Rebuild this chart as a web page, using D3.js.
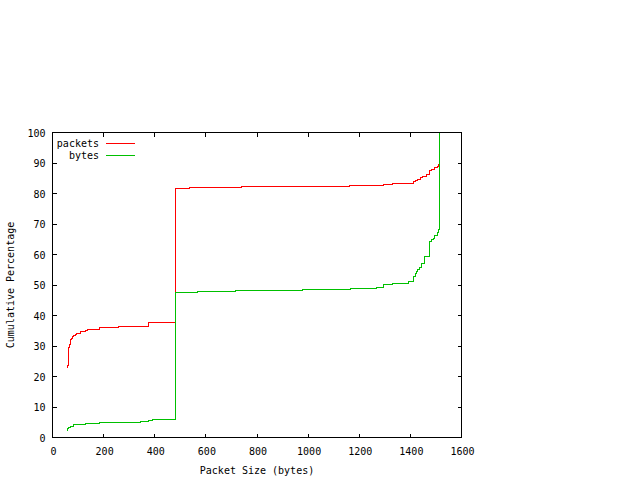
<!DOCTYPE html>
<html lang="en">
<head>
    <meta charset="UTF-8">
    <script src="https://d3js.org/d3.v7.min.js"></script>
    <style>
        body {margin: 0; background-color: #ffffff}
        svg {display: block}
        text {font-family: "DejaVu Sans Mono", monospace; font-size: 10px; fill: #000000}
        .frame {fill: none; stroke: #000000; stroke-width: 1; shape-rendering: crispEdges}
        .tick {stroke: #000000; stroke-width: 1; shape-rendering: crispEdges}
    </style>
</head>
<body>
<svg class="cdf_chart" width="640" height="480"></svg>
<script type="text/javascript">
    // packet size CDF
    const pktSizes = [56, 60, 64, 68, 71, 74, 78, 83, 90, 95, 110, 130, 137, 149, 182, 260, 374,
        480, 534, 738, 1162, 1295, 1329, 1413, 1420, 1429, 1438, 1446, 1464, 1476, 1482, 1495, 1505, 1510, 1514];
    const pktCum = [23.1, 23.6, 29.6, 30.4, 32.2, 32.6, 33.0, 33.5, 33.9, 34.2, 34.6, 35.0, 35.3, 35.5, 36.2, 36.5, 37.6,
        81.6, 81.9, 82.25, 82.6, 82.9, 83.2, 83.8, 84.2, 84.5, 85.2, 85.6, 86.3, 87.7, 88.0, 88.5, 88.9, 89.4, 100];

    const byteSizes = [56, 60, 64, 69, 83, 130, 182, 344, 374, 393,
        480, 569, 714, 979, 1166, 1267, 1295, 1329, 1393, 1413, 1420, 1425, 1429, 1436, 1442, 1456,
        1476, 1484, 1489, 1495, 1505, 1510, 1514];
    const byteCum = [2.4, 2.8, 3.4, 3.7, 4.1, 4.5, 4.8, 5.2, 5.6, 5.9,
        47.6, 47.9, 48.25, 48.6, 48.9, 49.25, 50.2, 50.65, 51.0, 52.7, 53.8, 54.4, 55.2, 55.9, 56.9, 59.4,
        64.4, 64.8, 65.3, 66.2, 67.2, 68.3, 100];

    const xTicks = [0, 200, 400, 600, 800, 1000, 1200, 1400, 1600];
    const yTicks = [0, 10, 20, 30, 40, 50, 60, 70, 80, 90, 100];

    const seriesNames = ['packets', 'bytes'];
    const seriesColors = ['#ff0000', '#00c000'];

    let plot_left = 52.5, plot_right = 461.5, plot_top = 132.5, plot_bottom = 437.5;
    let tick_len = 4;

    var x = d3.scaleLinear().domain([0, 1600]).range([plot_left, plot_right]);
    var y = d3.scaleLinear().domain([0, 100]).range([plot_bottom, plot_top]);

    var svg = d3.select('.cdf_chart');

    // ticks on all four sides, pointing inward
    var ticks = svg.append('g');
    xTicks.forEach(function (t) {
        ticks.append('line').attr('class', 'tick')
            .attr('x1', x(t)).attr('x2', x(t)).attr('y1', plot_bottom).attr('y2', plot_bottom - tick_len);
        ticks.append('line').attr('class', 'tick')
            .attr('x1', x(t)).attr('x2', x(t)).attr('y1', plot_top).attr('y2', plot_top + tick_len);
        svg.append('text').attr('x', x(t) + 1).attr('y', plot_bottom + 17)
            .attr('text-anchor', 'middle').text(t);
    });
    yTicks.forEach(function (t) {
        ticks.append('line').attr('class', 'tick')
            .attr('x1', plot_left).attr('x2', plot_left + tick_len).attr('y1', y(t)).attr('y2', y(t));
        ticks.append('line').attr('class', 'tick')
            .attr('x1', plot_right).attr('x2', plot_right - tick_len).attr('y1', y(t)).attr('y2', y(t));
        svg.append('text').attr('x', plot_left - 7).attr('y', y(t) + 4)
            .attr('text-anchor', 'end').text(t);
    });

    svg.append('rect').attr('class', 'frame')
        .attr('x', plot_left).attr('y', plot_top)
        .attr('width', plot_right - plot_left).attr('height', plot_bottom - plot_top);

    // step lines
    var line = d3.line()
        .x(function (d) { return x(d[0]); })
        .y(function (d) { return y(d[1]); })
        .curve(d3.curveStepAfter);

    [d3.zip(pktSizes, pktCum), d3.zip(byteSizes, byteCum)].forEach(function (pts, i) {
        svg.append('path').datum(pts)
            .attr('d', line)
            .attr('fill', 'none')
            .attr('stroke', seriesColors[i])
            .attr('stroke-width', 1)
            .attr('shape-rendering', 'crispEdges');
    });

    // legend
    seriesNames.forEach(function (name, i) {
        let ly = 143.5 + i * 12.3;
        svg.append('text').attr('x', 99).attr('y', ly + 3.5).attr('text-anchor', 'end').text(name);
        svg.append('line').attr('x1', 106).attr('x2', 135).attr('y1', ly).attr('y2', ly)
            .attr('stroke', seriesColors[i]).attr('stroke-width', 1).attr('shape-rendering', 'crispEdges');
    });

    // axis titles
    svg.append('text').attr('x', (plot_left + plot_right) / 2).attr('y', 474)
        .attr('text-anchor', 'middle').text('Packet Size (bytes)');
    svg.append('text').attr('transform', 'translate(14,' + ((plot_top + plot_bottom) / 2) + ') rotate(-90)')
        .attr('text-anchor', 'middle').text('Cumulative Percentage');
</script>
</body>
</html>
